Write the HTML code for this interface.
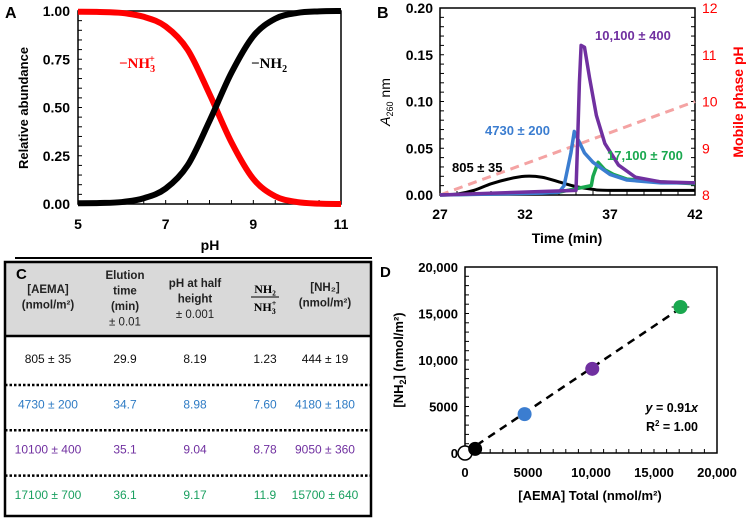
<!DOCTYPE html>
<html><head><meta charset="utf-8"><style>
body{margin:0;background:#fff;font-family:"Liberation Sans",sans-serif}
svg{display:block}
.serif{font-family:"Liberation Serif",serif}
</style></head><body>
<svg id="fig" width="750" height="520" viewBox="0 0 750 520" xmlns="http://www.w3.org/2000/svg" font-family="Liberation Sans, sans-serif">
<g id="pa"></g>
<g id="pb"></g>
<g id="pc"></g>
<g id="pd"></g>
</svg>
<script>
// ---- Panel A data
const phA = [5,5.5,6,6.5,7,7.5,8,8.5,9,9.5,10,10.5,11];
const nh2A = [0.004,0.005,0.01,0.03,0.08,0.2,0.43,0.68,0.87,0.96,0.99,0.998,1.0];
const nh3A = [0.996,0.995,0.99,0.97,0.92,0.8,0.57,0.32,0.13,0.04,0.01,0.002,0.0];
const aXTicks = [5,7,9,11];
const aYTicks = [0,0.25,0.5,0.75,1];
// ---- Panel B data
const tBlack = [27,28,29,30,31,32,33,34,35,36,37,42];
const aBlack = [0,0.001,0.005,0.012,0.017,0.02,0.019,0.014,0.009,0.006,0.005,0.005];
const tBlue = [27,33,34,34.3,34.7,34.9,35.1,35.5,36,37,38,40,42];
const aBlue = [0,0.002,0.003,0.01,0.045,0.068,0.06,0.045,0.035,0.022,0.016,0.013,0.013];
const tPurple = [27,35,35.1,35.2,35.3,35.5,35.8,36.2,36.7,37.5,38.5,40,42];
const aPurple = [0,0.005,0.06,0.12,0.16,0.158,0.125,0.085,0.055,0.032,0.019,0.014,0.013];
const tGreen = [27,34,35.9,36,36.3,36.7,37.2,38,40,42];
const aGreen = [0,0.003,0.01,0.02,0.035,0.027,0.022,0.017,0.014,0.012];
const tPH = [27,42];
const phB = [8,10];
const bXTicks = [27,32,37,42];
const bYTicks = [0,0.05,0.1,0.15,0.2];
const bY2Ticks = [8,9,10,11,12];
// ---- Panel D data
const aemaD = [0,805,4730,10100,17100];
const nh2D = [0,444,4180,9050,15700];
const slopeD = [0.91];
const dTicks = [0,5000,10000,15000,20000];
const dTickLabels = ["0","5000","10,000","15,000","20,000"];

const NS="http://www.w3.org/2000/svg";
function mk(parent,tag,attrs,txt){const e=document.createElementNS(NS,tag);for(const k in attrs)e.setAttribute(k,attrs[k]);if(txt!==undefined)e.textContent=txt;parent.appendChild(e);return e;}
function smooth(pts){let d="M"+pts[0][0]+","+pts[0][1];for(let i=0;i<pts.length-1;i++){const p0=pts[i-1]||pts[i],p1=pts[i],p2=pts[i+1],p3=pts[i+2]||p2;const c1=[p1[0]+(p2[0]-p0[0])/6,p1[1]+(p2[1]-p0[1])/6],c2=[p2[0]-(p3[0]-p1[0])/6,p2[1]-(p3[1]-p1[1])/6];d+=" C"+c1+" "+c2+" "+p2;}return d;}

// ===== Panel A
(function(){
const g=document.getElementById('pa');
const x=v=>78+(v-5)/6*263, y=v=>204-v*193;
mk(g,'rect',{x:78,y:11,width:263,height:193,fill:'none',stroke:'#000','stroke-width':1.5});
aYTicks.forEach(v=>{let t=mk(g,'text',{x:70,y:y(v)+5,'text-anchor':'end','font-size':14,'font-weight':'bold'},v.toFixed(2));});
for(let v=0;v<=1.001;v+=0.05)mk(g,'line',{x1:78,x2:82,y1:y(v),y2:y(v),stroke:'#000'});
for(let v=5;v<=11;v+=0.5)mk(g,'line',{x1:x(v),x2:x(v),y1:204,y2:200,stroke:'#000'});
aXTicks.forEach(v=>{let t=mk(g,'text',{x:x(v),y:229,'text-anchor':'middle','font-size':14,'font-weight':'bold'},v);});
let t=mk(g,'text',{x:210,y:250,'text-anchor':'middle','font-size':14,'font-weight':'bold'},'pH');
t=mk(g,'text',{transform:'translate(28,108) rotate(-90)','text-anchor':'middle','font-size':13,'font-weight':'bold'},'Relative abundance');
t=mk(g,'text',{x:5,y:18,'font-size':16,'font-weight':'bold'},'A');
let p=mk(g,'path',{d:smooth(phA.map((v,i)=>[x(v),y(nh3A[i])])),fill:'none',stroke:'#ff0000','stroke-width':6});
p=mk(g,'path',{d:smooth(phA.map((v,i)=>[x(v),y(nh2A[i])])),fill:'none',stroke:'#000','stroke-width':6});
t=mk(g,'text',{x:119,y:68,'font-size':15,'font-weight':'bold',fill:'#ff0000','class':'serif'});t.innerHTML='−NH<tspan font-size="10" dy="4">3</tspan><tspan font-size="10" dx="-6" dy="-10">+</tspan>';
t=mk(g,'text',{x:251,y:68,'font-size':15,'font-weight':'bold',fill:'#000','class':'serif'});t.innerHTML='−NH<tspan font-size="10" dy="4">2</tspan>';
mk(g,'line',{x1:15,x2:372,y1:258,y2:258,stroke:'#000','stroke-width':2});
})();

// ===== Panel B
(function(){
const g=document.getElementById('pb');
const x=v=>440+(v-27)/15*255, y=v=>195-v/0.2*187, y2=v=>195-(v-8)/4*187;
mk(g,'rect',{x:440,y:8,width:255,height:187,fill:'none',stroke:'#000','stroke-width':1.5});
for(let v=0;v<=0.2001;v+=0.01)mk(g,'line',{x1:440,x2:444,y1:y(v),y2:y(v),stroke:'#000'});
for(let v=8;v<=12.001;v+=0.2)mk(g,'line',{x1:691,x2:695,y1:y2(v),y2:y2(v),stroke:'#000'});
for(let v=27;v<=42;v++)mk(g,'line',{x1:x(v),x2:x(v),y1:195,y2:191,stroke:'#000'});
bYTicks.forEach(v=>{let t=mk(g,'text',{x:433,y:y(v)+5,'text-anchor':'end','font-size':14,'font-weight':'bold'},v.toFixed(2));});
bY2Ticks.forEach(v=>{let t=mk(g,'text',{x:702,y:y2(v)+5,'font-size':14,fill:'#ff0000'},v);});
bXTicks.forEach(v=>{let t=mk(g,'text',{x:x(v),y:219,'text-anchor':'middle','font-size':14,'font-weight':'bold'},v);});
let t=mk(g,'text',{x:567,y:243,'text-anchor':'middle','font-size':14,'font-weight':'bold'},'Time (min)');
t=mk(g,'text',{transform:'translate(390,102) rotate(-90)','text-anchor':'middle','font-size':14});t.innerHTML='<tspan font-style="italic">A</tspan><tspan font-size="9" dy="3">260</tspan><tspan dy="-3"> nm</tspan>';
t=mk(g,'text',{transform:'translate(743,102) rotate(-90)','text-anchor':'middle','font-size':14,'font-weight':'bold',fill:'#ff0000'},'Mobile phase pH');
t=mk(g,'text',{x:377,y:18,'font-size':16,'font-weight':'bold'},'B');
let p=mk(g,'polyline',{points:tPH.map((v,i)=>x(v)+','+y2(phB[i])).join(' '),fill:'none',stroke:'#f4a3a3','stroke-width':3,'stroke-dasharray':'9,6'});
p=mk(g,'path',{d:smooth(tBlack.map((v,i)=>[x(v),y(aBlack[i])])),fill:'none',stroke:'#000','stroke-width':3});
const ser=[[tGreen,aGreen,'#1aa84f','trace-17100'],[tBlue,aBlue,'#3b7dd0','trace-4730'],[tPurple,aPurple,'#7030a0','trace-10100']];
ser.forEach(s=>{let q=mk(g,'polyline',{points:s[0].map((v,i)=>x(v)+','+y(s[1][i])).join(' '),fill:'none',stroke:s[2],'stroke-width':3.5,'stroke-linejoin':'round'});});
[[452,172,'#000','805 ± 35'],[485,135,'#3b7dd0','4730 ± 200'],[595,40,'#7030a0','10,100 ± 400'],[607,160,'#1aa84f','17,100 ± 700']].forEach(a=>{let q=mk(g,'text',{x:a[0],y:a[1],'font-size':13,'font-weight':'bold',fill:a[2]},a[3]);});
})();

// ===== Panel C
(function(){
const g=document.getElementById('pc');
mk(g,'rect',{x:5,y:262,width:366,height:74,fill:'#d9d9d9'});
mk(g,'rect',{x:5,y:262,width:366,height:254,fill:'none',stroke:'#000','stroke-width':2.5});
mk(g,'line',{x1:5,x2:371,y1:336,y2:336,stroke:'#000','stroke-width':2.5});
let t=mk(g,'text',{x:16,y:279,'font-size':15,'font-weight':'bold'},'C');
const hs=[[48,['[AEMA]','(nmol/m²)'],293],[125,['Elution','time','(min)','± 0.01'],279],[195,['pH at half','height','± 0.001'],287],[325,['[NH₂]','(nmol/m²)'],291]];
hs.forEach(h=>h[1].forEach((s,i)=>{let q=mk(g,'text',{x:h[0],y:h[2]+i*15.5,'text-anchor':'middle','font-size':11.5,'font-weight':s.startsWith('±')?'normal':'bold',fill:'#222'},s);}));
t=mk(g,'text',{x:265,y:293,'text-anchor':'middle','font-size':12,'font-weight':'bold','class':'serif'},'NH₂');
mk(g,'line',{x1:251,x2:279,y1:297,y2:297,stroke:'#000'});
t=mk(g,'text',{x:265,y:311,'text-anchor':'middle','font-size':12,'font-weight':'bold','class':'serif'});t.innerHTML='NH<tspan font-size="8" dy="3">3</tspan><tspan font-size="8" dx="-4" dy="-8">+</tspan>';
const rows=[['805 ± 35','29.9','8.19','1.23','444 ± 19','#111'],['4730 ± 200','34.7','8.98','7.60','4180 ± 180','#2e7bc4'],['10100 ± 400','35.1','9.04','8.78','9050 ± 360','#7030a0'],['17100 ± 700','36.1','9.17','11.9','15700 ± 640','#1aa060']];
const cx=[48,125,195,265,325];
rows.forEach((r,i)=>{const yy=363+i*45.3;r.slice(0,5).forEach((s,j)=>{let q=mk(g,'text',{x:cx[j],y:yy,'text-anchor':'middle','font-size':12,fill:r[5]},s);});
if(i<3)mk(g,'line',{x1:5,x2:371,y1:yy+22,y2:yy+22,stroke:'#000','stroke-width':2.5,'stroke-dasharray':'2.5,2'});});
})();

// ===== Panel D
(function(){
const g=document.getElementById('pd');
const x=v=>465+v/20000*252, y=v=>453-v/20000*186;
mk(g,'rect',{x:465,y:267,width:252,height:186,fill:'none',stroke:'#000','stroke-width':1.5});
for(let v=0;v<=20000;v+=1000){mk(g,'line',{x1:465,x2:469,y1:y(v),y2:y(v),stroke:'#000'});mk(g,'line',{x1:x(v),x2:x(v),y1:453,y2:449,stroke:'#000'});}
dTicks.forEach((v,i)=>{let q=mk(g,'text',{x:458,y:y(v)+5,'text-anchor':'end','font-size':13,'font-weight':'bold'},dTickLabels[i]);
q=mk(g,'text',{x:x(v),y:477,'text-anchor':'middle','font-size':13,'font-weight':'bold'},dTickLabels[i]);});
let t=mk(g,'text',{x:590,y:500,'text-anchor':'middle','font-size':13,'font-weight':'bold'},'[AEMA] Total (nmol/m²)');
t=mk(g,'text',{transform:'translate(403,360) rotate(-90)','text-anchor':'middle','font-size':13,'font-weight':'bold'});t.innerHTML='[NH<tspan font-size="9" dy="3">2</tspan><tspan dy="-3">] (nmol/m²)</tspan>';
t=mk(g,'text',{x:380,y:277,'font-size':15,'font-weight':'bold'},'D');
const xmax=aemaD[aemaD.length-1];
let p=mk(g,'line',{x1:x(0),y1:y(0),x2:x(xmax),y2:y(xmax*slopeD[0]),stroke:'#000','stroke-width':2.5,'stroke-dasharray':'8,6'});
const cols=['#fff','#000','#3b7dd0','#7030a0','#1aa84f'];
aemaD.forEach((v,i)=>{if(i==4){mk(g,'line',{x1:x(v-700),x2:x(v+700),y1:y(nh2D[i]),y2:y(nh2D[i]),stroke:'#555','stroke-width':1.5});}
let c=mk(g,'circle',{cx:x(v),cy:y(nh2D[i]),r:7,fill:cols[i],stroke:i==0?'#000':'none','stroke-width':1.5});});
t=mk(g,'text',{x:698,y:412,'text-anchor':'end','font-size':12.5,'font-weight':'bold'});t.innerHTML='<tspan font-style="italic">y</tspan> = 0.91<tspan font-style="italic">x</tspan>';
t=mk(g,'text',{x:698,y:431,'text-anchor':'end','font-size':12.5,'font-weight':'bold'});t.innerHTML='R<tspan font-size="8" dy="-5">2</tspan><tspan dy="5"> = 1.00</tspan>';
})();
</script>
</body></html>
